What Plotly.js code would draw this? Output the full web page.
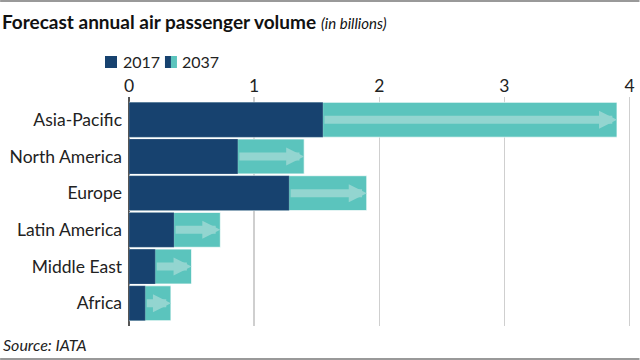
<!DOCTYPE html>
<html><head><meta charset="utf-8">
<script src="https://cdn.plot.ly/plotly-3.0.1.min.js"></script>
<style>html,body{margin:0;padding:0;background:#fff}#c{width:640px;height:360px}</style>
</head><body><div id="c"></div>
<script>
const regions = ["Asia-Pacific","North America","Europe","Latin America","Middle East","Africa"];
const v2017 = [1.55, 0.87, 1.28, 0.36, 0.21, 0.13];
const v2037 = [3.90, 1.40, 1.90, 0.73, 0.50, 0.335];
const seriesNames = ["2017","2037"];
const tickVals = [0,1,2,3,4];

const DARK = "#17426f", TEAL = "#5bc4bd", ARROW = "#93d5d0";
const FONT = "Lato, 'Open Sans', sans-serif";
const W = 640, H = 360, L = 129, R = 7.5, T = 97, B = 34;
const pw = W - L - R, ph = H - T - B;
const px = x => (x - L) / pw;            // pixel -> paper x
const py = y => (H - B - y) / ph;        // pixel -> paper y

const traces = [
  {type:"bar", orientation:"h", y:regions, x:v2037, name:seriesNames[1], width:0.95,
   marker:{color:TEAL, line:{color:"rgba(255,255,255,0.7)", width:1}}, hoverinfo:"x+y"},
  {type:"bar", orientation:"h", y:regions, x:v2017, name:seriesNames[0], width:0.95,
   marker:{color:DARK, line:{color:"rgba(255,255,255,0.35)", width:0.5}}, hoverinfo:"x+y"}
];

const annotations = regions.map((r,i) => ({
  x: v2037[i], y: r, ax: v2017[i], ay: r, xref:"x", yref:"y", axref:"x", ayref:"y",
  showarrow:true, arrowhead:2, arrowsize:0.45, arrowwidth:8, arrowcolor:ARROW,
  standoff:0, startstandoff:0, text:""
}));

annotations.push(
  {xref:"paper", yref:"paper", x:px(121), y:py(61), xanchor:"left", yanchor:"middle",
   text:seriesNames[0], showarrow:false, font:{family:FONT, size:16, color:"#222"}},
  {xref:"paper", yref:"paper", x:px(180), y:py(61), xanchor:"left", yanchor:"middle",
   text:seriesNames[1], showarrow:false, font:{family:FONT, size:16, color:"#222"}},
  {xref:"paper", yref:"paper", x:px(1), y:py(344), xanchor:"left", yanchor:"middle",
   text:"<i>Source: IATA</i>", showarrow:false, font:{family:FONT, size:16, color:"#222"}}
);

const shapes = [
  {type:"rect", xref:"paper", yref:"paper", x0:px(105), x1:px(117), y0:py(68), y1:py(56), fillcolor:DARK, line:{width:0}},
  {type:"rect", xref:"paper", yref:"paper", x0:px(165), x1:px(171), y0:py(68), y1:py(56), fillcolor:DARK, line:{width:0}},
  {type:"rect", xref:"paper", yref:"paper", x0:px(171), x1:px(177), y0:py(68), y1:py(56), fillcolor:TEAL, line:{width:0}},
  {type:"line", xref:"paper", yref:"paper", x0:px(0), x1:px(640), y0:py(1), y1:py(1), line:{color:"#999", width:2}},
  {type:"line", xref:"paper", yref:"paper", x0:px(0), x1:px(640), y0:py(359), y1:py(359), line:{color:"#999", width:2}}
];

const layout = {
  width:W, height:H, margin:{l:L, r:R, t:T, b:B, pad:0},
  paper_bgcolor:"#fff", plot_bgcolor:"#fff",
  barmode:"overlay", showlegend:false,
  font:{family:FONT, color:"#222"},
  title:{text:"<b>Forecast annual air passenger volume</b> <i><span style='font-size:15px;font-weight:normal'>(in billions)</span></i>",
         xref:"container", yref:"container", x:0.003, xanchor:"left", y:1-22/360, yanchor:"middle",
         font:{family:FONT, size:19, color:"#111"}},
  xaxis:{side:"top", range:[0,4.02], tickvals:tickVals, ticktext:tickVals.map(String),
         showgrid:true, gridcolor:"#cfcfcf", gridwidth:1.5, zeroline:true, zerolinecolor:"#555", zerolinewidth:1.5,
         ticks:"", tickfont:{family:FONT, size:17.5, color:"#222"}, fixedrange:true, showline:false, ticklabelstandoff:1},
  yaxis:{type:"category", range:[5.62,-0.62], ticks:"", ticklen:0, showgrid:false, zeroline:false, showline:false,
         tickfont:{family:FONT, size:17.5, color:"#222"}, automargin:false, ticklabelstandoff:6},
  annotations, shapes
};
Plotly.newPlot("c", traces, layout, {displayModeBar:false, staticPlot:true});
</script></body></html>
